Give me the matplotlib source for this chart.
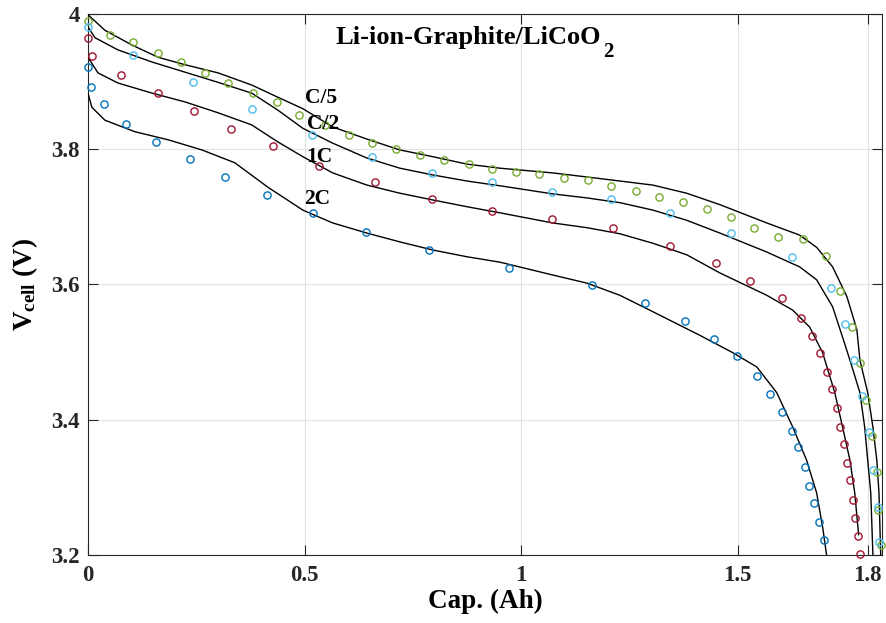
import matplotlib
matplotlib.use("Agg")
import matplotlib.pyplot as plt

plt.rcParams['font.family'] = ['Liberation Serif', 'DejaVu Serif']
plt.rcParams['mathtext.fontset'] = 'custom'
plt.rcParams['mathtext.rm'] = 'Liberation Serif:bold'
plt.rcParams['mathtext.it'] = 'Liberation Serif:bold'
plt.rcParams['mathtext.bf'] = 'Liberation Serif:bold'

# ---- experimental data (markers) ----
c5_x = [0.000, 0.051, 0.104, 0.162, 0.215, 0.270, 0.323, 0.381, 0.436, 0.487, 0.547, 0.602,
        0.655, 0.711, 0.766, 0.822, 0.879, 0.932, 0.988, 1.041, 1.099, 1.154, 1.207, 1.265,
        1.318, 1.373, 1.429, 1.484, 1.537, 1.592, 1.650, 1.703, 1.736, 1.763, 1.782, 1.796,
        1.809, 1.821, 1.823, 1.830]
c5_y = [3.990, 3.969, 3.959, 3.942, 3.929, 3.913, 3.898, 3.883, 3.870, 3.851, 3.836, 3.821,
        3.809, 3.800, 3.791, 3.784, 3.778, 3.771, 3.766, 3.763, 3.757, 3.755, 3.746, 3.738,
        3.729, 3.722, 3.712, 3.700, 3.684, 3.670, 3.667, 3.642, 3.590, 3.537, 3.484, 3.429,
        3.376, 3.323, 3.267, 3.215]

c2_x = [0.000, 0.104, 0.242, 0.378, 0.517, 0.655, 0.794, 0.932, 1.071, 1.207, 1.343, 1.484,
        1.625, 1.715, 1.747, 1.768, 1.786, 1.802, 1.812, 1.823, 1.825]
c2_y = [3.981, 3.939, 3.899, 3.860, 3.821, 3.789, 3.765, 3.752, 3.737, 3.726, 3.706, 3.676,
        3.641, 3.595, 3.542, 3.488, 3.435, 3.382, 3.326, 3.271, 3.219]

c1_x = [0.000, 0.009, 0.076, 0.162, 0.245, 0.330, 0.427, 0.533, 0.662, 0.794, 0.932, 1.071,
        1.212, 1.343, 1.449, 1.528, 1.602, 1.645, 1.671, 1.689, 1.706, 1.717, 1.729, 1.736,
        1.745, 1.752, 1.759, 1.766, 1.770, 1.777, 1.782]
c1_y = [3.965, 3.938, 3.910, 3.883, 3.857, 3.830, 3.805, 3.775, 3.752, 3.726, 3.709, 3.697,
        3.684, 3.657, 3.632, 3.605, 3.580, 3.550, 3.524, 3.499, 3.471, 3.445, 3.417, 3.389,
        3.364, 3.336, 3.311, 3.281, 3.255, 3.228, 3.201]

c2c_x = [0.000, 0.007, 0.037, 0.088, 0.157, 0.235, 0.316, 0.413, 0.519, 0.642, 0.787, 0.972,
         1.163, 1.285, 1.378, 1.445, 1.498, 1.544, 1.574, 1.602, 1.625, 1.639, 1.655, 1.664,
         1.676, 1.687, 1.699]
c2c_y = [3.922, 3.892, 3.867, 3.837, 3.811, 3.786, 3.759, 3.732, 3.706, 3.678, 3.651, 3.624,
         3.599, 3.573, 3.546, 3.519, 3.494, 3.465, 3.438, 3.411, 3.383, 3.360, 3.330, 3.302,
         3.277, 3.249, 3.222]

# ---- model curves (lines) ----
m5_x = [0.000, 0.039, 0.102, 0.162, 0.224, 0.300, 0.378, 0.438, 0.496, 0.565, 0.644, 0.720,
        0.796, 0.875, 0.951, 1.073, 1.152, 1.228, 1.304, 1.382, 1.459, 1.567, 1.643, 1.682,
        1.719, 1.752, 1.775, 1.782, 1.800, 1.812, 1.821, 1.826, 1.830]
m5_y = [3.999, 3.976, 3.954, 3.936, 3.925, 3.913, 3.895, 3.877, 3.860, 3.833, 3.815, 3.799,
        3.789, 3.778, 3.772, 3.765, 3.759, 3.753, 3.747, 3.735, 3.718, 3.691, 3.673, 3.655,
        3.626, 3.582, 3.533, 3.488, 3.440, 3.389, 3.340, 3.292, 3.200]

m2_x = [0.000, 0.016, 0.069, 0.148, 0.224, 0.300, 0.378, 0.438, 0.496, 0.565, 0.644, 0.720,
        0.796, 0.875, 0.951, 1.073, 1.152, 1.228, 1.304, 1.382, 1.459, 1.567, 1.643, 1.682,
        1.719, 1.742, 1.759, 1.782, 1.793, 1.800, 1.807, 1.812]
m2_y = [3.981, 3.965, 3.947, 3.929, 3.914, 3.899, 3.883, 3.858, 3.831, 3.809, 3.787, 3.772,
        3.762, 3.753, 3.746, 3.734, 3.728, 3.721, 3.710, 3.695, 3.676, 3.648, 3.626, 3.607,
        3.567, 3.522, 3.488, 3.440, 3.389, 3.340, 3.292, 3.200]

m1_x = [0.000, 0.023, 0.069, 0.148, 0.224, 0.300, 0.378, 0.438, 0.496, 0.565, 0.644, 0.720,
        0.796, 0.875, 0.951, 1.073, 1.152, 1.228, 1.304, 1.382, 1.459, 1.567, 1.627, 1.666,
        1.696, 1.724, 1.742, 1.759, 1.770, 1.779]
m1_y = [3.936, 3.913, 3.898, 3.883, 3.870, 3.854, 3.836, 3.811, 3.789, 3.765, 3.747, 3.735,
        3.725, 3.715, 3.706, 3.691, 3.684, 3.675, 3.661, 3.644, 3.617, 3.584, 3.562, 3.537,
        3.499, 3.440, 3.389, 3.340, 3.292, 3.230]

m2c_x = [0.000, 0.009, 0.039, 0.108, 0.185, 0.263, 0.339, 0.415, 0.496, 0.565, 0.644, 0.720,
         0.796, 0.875, 0.951, 1.073, 1.152, 1.228, 1.297, 1.412, 1.489, 1.544, 1.590, 1.627,
         1.659, 1.682, 1.696, 1.705]
m2c_y = [3.883, 3.862, 3.843, 3.826, 3.814, 3.799, 3.780, 3.744, 3.710, 3.691, 3.676, 3.663,
         3.651, 3.641, 3.633, 3.614, 3.602, 3.584, 3.562, 3.525, 3.499, 3.478, 3.440, 3.389,
         3.340, 3.292, 3.241, 3.200]

labels = ['C/5', 'C/2', '1C', '2C']
label_x = [0.500, 0.505, 0.503, 0.500]
label_y = [3.876, 3.837, 3.789, 3.726]

x_ticks = [0, 0.5, 1, 1.5, 1.8]
x_ticklabels = ['0', '0.5', '1', '1.5', '1.8']
y_ticks = [3.2, 3.4, 3.6, 3.8, 4.0]
y_ticklabels = ['3.2', '3.4', '3.6', '3.8', '4']

fig = plt.figure(figsize=(8.86, 6.23), dpi=100)
ax = fig.add_axes([0.0993, 0.1092, 0.8962, 0.8683])

for mx, my in [(m5_x, m5_y), (m2_x, m2_y), (m1_x, m1_y), (m2c_x, m2c_y)]:
    ax.plot(mx, my, color='black', lw=1.0, zorder=3)

colors = ['#77AC30', '#4DBEEE', '#A2142F', '#0072BD']
for (dx, dy), c in zip([(c5_x, c5_y), (c2_x, c2_y), (c1_x, c1_y), (c2c_x, c2c_y)], colors):
    ax.plot(dx, dy, linestyle='none', marker='o', ms=5.2, mfc='none', mec=c, mew=1.0,
            zorder=4, clip_on=False)

for t, lx, ly in zip(labels, label_x, label_y):
    ax.text(lx, ly, t, fontsize=15.5, fontweight='bold', ha='left', va='center', zorder=5)

ax.set_xlim(0, 1.833)
ax.set_ylim(3.2, 4.0)

# title with a dropped subscript
ttl = ax.text(0.571, 3.955, 'Li-ion-Graphite/LiCoO', fontsize=19, fontweight='bold',
              ha='left', va='baseline')
ax.annotate('2', xy=(1.0, 0.0), xycoords=ttl, xytext=(2, -9), textcoords='offset points',
            fontsize=15, fontweight='bold', ha='left', va='bottom')

ax.set_xticks(x_ticks)
ax.set_xticklabels(x_ticklabels)
ax.set_yticks(y_ticks)
ax.set_yticklabels(y_ticklabels)
ax.tick_params(direction='in', top=True, right=True, length=7, width=0.8,
               labelsize=16.5, colors='#262626')
ax.tick_params(axis='x', pad=7)
ax.tick_params(axis='y', pad=6)
for lbl in ax.get_xticklabels() + ax.get_yticklabels():
    lbl.set_fontweight('bold')
ax.grid(True, color='#e3e3e3', lw=0.8)
ax.set_axisbelow(True)
for s in ax.spines.values():
    s.set_color('#262626')
    s.set_linewidth(0.8)

ax.set_xlabel('Cap. (Ah)', fontsize=19.5, fontweight='bold', labelpad=2)
ax.set_ylabel(r'V$_{\mathbf{cell}}$ (V)', fontsize=19.5, fontweight='bold', labelpad=8)

fig.savefig('out.png', dpi=100)
